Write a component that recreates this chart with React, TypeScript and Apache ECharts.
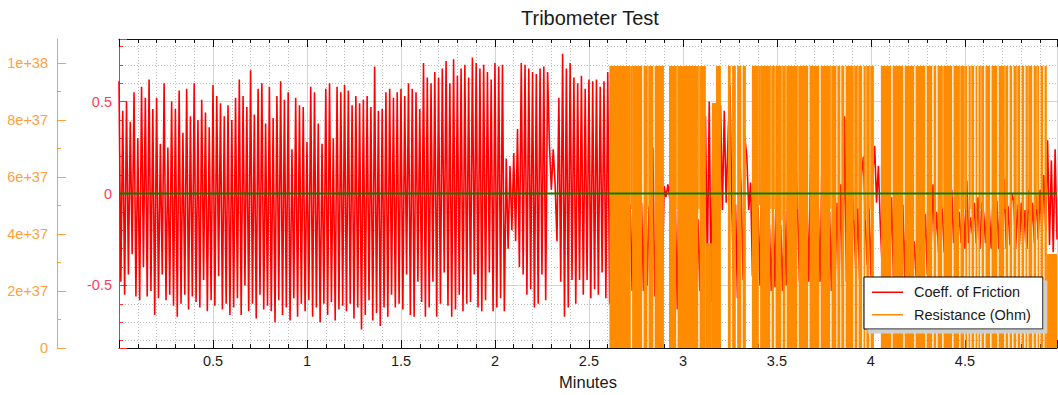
import React, { useEffect, useRef } from 'react';
import * as echarts from 'echarts';

const FONT = "'Liberation Sans', Arial, sans-serif";

// Coefficient of friction, sampled every cofStepMin minutes from cofStartMin
const cofStartMin = 0;
const cofStepMin = 0.01;
const cofValues = [
  0.61, -0.48, 0.45, -0.55, 0.50, -0.44, 0.39, -0.33, 0.55, -0.56, 0.30, -0.58, 0.58, -0.40, 0.52, -0.56, 0.62, -0.53, 0.46, -0.66,
  0.52, -0.57, 0.27, -0.44, 0.60, -0.58, 0.25, -0.55, 0.50, -0.61, 0.46, -0.67, 0.56, -0.60, 0.33, -0.55, 0.57, -0.63, 0.42, -0.56,
  0.60, -0.59, 0.40, -0.62, 0.51, -0.47, 0.44, -0.64, 0.36, -0.58, 0.59, -0.61, 0.53, -0.45, 0.49, -0.63, 0.42, -0.60, 0.48, -0.66,
  0.40, -0.62, 0.52, -0.57, 0.62, -0.66, 0.53, -0.50, 0.47, -0.64, 0.67, -0.60, 0.43, -0.68, 0.57, -0.55, 0.60, -0.63, 0.38, -0.61,
  0.58, -0.64, 0.41, -0.70, 0.53, -0.58, 0.61, -0.66, 0.51, -0.62, 0.55, -0.69, 0.24, -0.57, 0.52, -0.67, 0.48, -0.60, 0.47, -0.64,
  0.28, -0.58, 0.58, -0.67, 0.55, -0.62, 0.38, -0.70, 0.27, -0.60, 0.57, -0.66, 0.60, -0.59, 0.30, -0.69, 0.58, -0.63, 0.55, -0.61,
  0.59, -0.64, 0.56, -0.60, 0.48, -0.68, 0.53, -0.62, 0.49, -0.74, 0.51, -0.66, 0.53, -0.58, 0.47, -0.69, 0.69, -0.65, 0.45, -0.72,
  0.46, -0.62, 0.55, -0.67, 0.57, -0.55, 0.52, -0.62, 0.55, -0.60, 0.57, -0.63, 0.53, -0.44, 0.60, -0.66, 0.57, -0.67, 0.55, -0.48,
  0.46, -0.59, 0.71, -0.67, 0.63, -0.62, 0.60, -0.48, 0.66, -0.67, 0.63, -0.60, 0.68, -0.43, 0.72, -0.61, 0.60, -0.67, 0.73, -0.63,
  0.64, -0.55, 0.68, -0.64, 0.70, -0.60, 0.63, -0.59, 0.74, -0.44, 0.71, -0.62, 0.68, -0.64, 0.70, -0.58, 0.66, -0.43, 0.62, -0.64,
  0.71, -0.62, 0.69, -0.57, 0.70, -0.64, 0.19, -0.30, 0.15, -0.20, 0.22, -0.26, 0.35, -0.40, 0.71, -0.44, 0.70, -0.55, 0.68, -0.52,
  0.66, -0.62, 0.65, -0.60, 0.68, -0.44, 0.69, -0.58, 0.66, 0.26, 0.02, 0.24, 0.05, -0.26, 0.52, -0.48, 0.76, -0.67, 0.68, -0.62,
  0.71, -0.47, 0.63, -0.60, 0.60, -0.47, 0.64, -0.55, 0.57, -0.47, 0.62, -0.57, 0.61, -0.52, 0.62, -0.55, 0.58, -0.43, 0.61, -0.57,
  0.66, -0.60, 0.45, -0.55, 0.30, -0.50, 0.20, -0.52, 0.10, -0.55, 0.05, -0.50, -0.06, -0.53, 0.12, -0.48, 0.20, -0.55, -0.05, -0.53,
  0.15, -0.50, -0.07, -0.45, 0.25, -0.56, -0.04, -0.50, 0.20, -0.48, 0.04, -0.02, 0.05, -0.03, 0.30, -0.55, -0.08, -0.63, 0.20, -0.50,
  0.30, -0.55, 0.10, -0.50, 0.25, -0.52, 0.15, -0.48, -0.14, -0.53, 0.20, -0.50, 0.42, -0.40, 0.50, -0.59, 0.35, -0.55, 0.20, -0.50,
  0.48, -0.09, 0.45, -0.05, 0.30, 0.59, -0.05, -0.50, -0.06, -0.57, 0.25, 0.02, -0.47, 0.30, 0.20, -0.09, 0.06, -0.45, 0.20, -0.50,
  -0.08, -0.50, 0.20, -0.48, 0.10, -0.52, -0.17, -0.53, -0.08, -0.51, 0.15, -0.45, -0.17, -0.53, -0.08, -0.50, 0.25, -0.48, 0.10, -0.50,
  0.20, -0.08, -0.48, 0.15, -0.50, 0.10, -0.04, -0.48, 0.25, -0.45, 0.05, -0.50, -0.08, -0.48, 0.20, -0.47, 0.10, -0.50, -0.10, -0.53,
  0.10, -0.45, -0.05, -0.50, 0.05, -0.52, 0.42, -0.48, 0.15, -0.40, 0.05, -0.16, -0.42, -0.08, -0.47, 0.10, 0.20, -0.14, -0.39, -0.08,
  -0.45, 0.10, 0.26, -0.05, 0.15, -0.17, -0.40, 0.05, -0.45, 0.00, -0.40, -0.02, -0.47, 0.05, -0.42, 0.00, -0.40, -0.06, -0.47, 0.02,
  -0.40, 0.00, -0.38, -0.26, -0.45, -0.05, -0.40, 0.02, -0.35, -0.11, -0.44, -0.02, -0.30, 0.05, -0.28, -0.10, -0.32, -0.05, -0.09, -0.32,
  -0.02, -0.30, 0.00, 0.02, -0.27, -0.05, -0.28, -0.10, -0.27, -0.05, -0.30, 0.07, -0.27, -0.13, -0.22, -0.05, -0.27, -0.02, -0.30, -0.05,
  -0.11, -0.27, 0.00, -0.09, -0.30, -0.02, -0.25, -0.04, -0.30, 0.02, -0.28, 0.08, -0.30, -0.07, -0.28, 0.00, -0.04, -0.30, -0.06, -0.28,
  -0.05, -0.28, -0.09, -0.30, 0.02, -0.25, -0.05, -0.27, 0.00, -0.25, 0.02, -0.22, 0.10, -0.20, 0.29, -0.28, 0.18, -0.32, 0.24, -0.25,
];

// Resistance: overflow reading (open contact) from resistanceStartMin to resistanceEndMin,
// except in these intervals [startMin, endMin, lowOhm, highOhm] where the trace leaves that band
const resistanceStartMin = 2.609;
const resistanceEndMin = 4.99;
const resistanceOverflowOhm = 9.9e37;
const resistanceGaps = [
  [2.7225, 2.7295, 0, 4.88e37],
  [2.7835, 2.7905, 0, 9.9e37],
  [2.811, 2.817, 0, 4.88e37],
  [2.8425, 2.8495, 0, 9.9e37],
  [2.899, 2.926, 0, 9.9e37],
  [2.9645, 2.9715, 0, 4.88e37],
  [3.0815, 3.0885, 0, 4.88e37],
  [3.122, 3.154, 3.68e37, 9.9e37],
  [3.154, 3.176, 8.6e37, 9.9e37],
  [3.202, 3.239, 0, 9.9e37],
  [3.2545, 3.2615, 0, 9.9e37],
  [3.2815, 3.2885, 0, 9.9e37],
  [3.3105, 3.3175, 0, 9.9e37],
  [3.335, 3.367, 0, 9.9e37],
  [3.4035, 3.4105, 0, 5.02e37],
  [3.4645, 3.4715, 0, 4.88e37],
  [3.4855, 3.4925, 0, 4.88e37],
  [3.5235, 3.5305, 0, 4.49e37],
  [3.5445, 3.5515, 0, 4.88e37],
  [3.6085, 3.6155, 0, 4.88e37],
  [3.6665, 3.6735, 0, 9.9e37],
  [3.7255, 3.7325, 0, 9.9e37],
  [3.7835, 3.7905, 0, 4.88e37],
  [3.8165, 3.8215, 0, 9.9e37],
  [3.8375, 3.8425, 0, 9.9e37],
  [3.8585, 3.8655, 0, 9.9e37],
  [3.9065, 3.9135, 0, 4.49e37],
  [3.9275, 3.9345, 0, 4.88e37],
  [3.9535, 3.9605, 0, 9.9e37],
  [3.970, 3.976, 0, 4.49e37],
  [3.9915, 3.9985, 0, 4.88e37],
  [4.016, 4.053, 0, 9.9e37],
  [4.1085, 4.1155, 0, 9.9e37],
  [4.1725, 4.1795, 0, 9.9e37],
  [4.2305, 4.2375, 0, 9.9e37],
  [4.2895, 4.2965, 0, 9.9e37],
  [4.3265, 4.3335, 0, 9.9e37],
  [4.3475, 4.3545, 0, 9.9e37],
  [4.3795, 4.3865, 0, 4.88e37],
  [4.4325, 4.4395, 0, 9.9e37],
  [4.4695, 4.4765, 0, 4.88e37],
  [4.4965, 4.5035, 0, 4.88e37],
  [4.5125, 4.5195, 0, 9.9e37],
  [4.529, 4.535, 0, 4.88e37],
  [4.5495, 4.5565, 0, 9.9e37],
  [4.566, 4.572, 0, 9.9e37],
  [4.5815, 4.5885, 0, 4.88e37],
  [4.6025, 4.6095, 0, 9.9e37],
  [4.6345, 4.6415, 0, 9.9e37],
  [4.6725, 4.6795, 0, 9.9e37],
  [4.7095, 4.7165, 0, 4.88e37],
  [4.7305, 4.7375, 0, 9.9e37],
  [4.7515, 4.7585, 0, 9.9e37],
  [4.7735, 4.7805, 0, 4.88e37],
  [4.7945, 4.8015, 0, 9.9e37],
  [4.8155, 4.8225, 0, 9.9e37],
  [4.8315, 4.8385, 0, 4.88e37],
  [4.8585, 4.8655, 0, 9.9e37],
  [4.8795, 4.8865, 0, 4.88e37],
  [4.8955, 4.9025, 0, 9.9e37],
  [4.9165, 4.9235, 0, 9.9e37],
  [4.936, 4.99, 3.3e37, 9.9e37],
];

const zeroLine = [[0, 0], [4.99, 0]];
const resistanceTickValues = [0, 2e37, 4e37, 6e37, 8e37, 1e38];
const minutesMin = 0;
const minutesMax = 4.99;

function buildResistanceBlocks() {
  const H = resistanceOverflowOhm;
  const blocks: number[][] = [];
  let cursor = resistanceStartMin;
  for (const [t0, t1, lo, hi] of resistanceGaps) {
    if (t0 > cursor) blocks.push([cursor, t0, 0, H]);
    if (lo > 0) blocks.push([t0, t1, 0, lo]);
    if (hi < H) blocks.push([t0, t1, hi, H]);
    cursor = Math.max(cursor, t1);
  }
  if (cursor < resistanceEndMin) blocks.push([cursor, resistanceEndMin, 0, H]);
  return blocks;
}

function fmtResistance(v: number) {
  const m = Math.round(v / 1e37);
  if (m === 0) return '0';
  if (m === 10) return '1e+38';
  if (m > 10) return '';
  return `${m}e+37`;
}

export default function App() {
  const ref = useRef<HTMLDivElement>(null);
  useEffect(() => {
    if (!ref.current) return;
    document.body.style.margin = '0';
    const chart = echarts.init(ref.current, null, { renderer: 'svg' });
    const cofData = cofValues.map((v, i) => [+(cofStartMin + i * cofStepMin).toFixed(4), v]);
    const blocks = buildResistanceBlocks();
    const darkText = '#1a1a1a';
    const redAxis = '#ff2f2f';
    const orangeAxis = '#ffa033';
    chart.setOption({
      animation: false,
      backgroundColor: '#ffffff',
      title: {
        text: 'Tribometer Test',
        left: 521,
        top: 8,
        padding: 0,
        textStyle: { fontSize: 20, fontWeight: 'normal', color: darkText, fontFamily: FONT },
      },
      grid: { left: 119, top: 39, width: 938, height: 309, containLabel: false, outerBoundsMode: 'none' },
      legend: {
        left: 864,
        top: 277,
        orient: 'vertical',
        itemWidth: 31,
        itemHeight: 1.5,
        itemGap: 7.5,
        padding: [7.75, 12, 6.75, 8],
        backgroundColor: '#ffffff',
        borderColor: '#000000',
        borderWidth: 1,
        borderRadius: 0,
        shadowColor: '#cfcfcf',
        shadowOffsetX: 4,
        shadowOffsetY: 4,
        shadowBlur: 0,
        selectedMode: false,
        textStyle: { color: darkText, fontSize: 14.5, fontFamily: FONT, padding: [0, 0, 0, 6] },
        data: [
          { name: 'Coeff. of Friction', icon: 'rect' },
          { name: 'Resistance (Ohm)', icon: 'rect' },
        ],
      },
      xAxis: [
        {
          type: 'value',
          position: 'bottom',
          min: minutesMin,
          max: minutesMax,
          interval: 0.5,
          axisLine: { show: true, onZero: false, lineStyle: { color: '#111111', width: 1 } },
          axisTick: { show: true, inside: true, length: 8, lineStyle: { color: '#111111' } },
          minorTick: { show: true, splitNumber: 5, length: 4, lineStyle: { color: '#111111' } },
          axisLabel: {
            show: true,
            margin: 5,
            color: darkText,
            fontSize: 14.5,
            fontFamily: FONT,
            showMinLabel: false,
            showMaxLabel: false,
            formatter: (v: number) => (v === 0 ? '' : String(v)),
          },
          splitLine: { show: true, lineStyle: { color: '#d4d4d4', width: 1 } },
          minorSplitLine: { show: true, lineStyle: { color: '#c0c0c0', width: 1, type: [1, 2] } },
          name: 'Minutes',
          nameLocation: 'middle',
          nameGap: 25,
          nameTextStyle: { color: darkText, fontSize: 16.5, fontFamily: FONT },
        },
        {
          type: 'value',
          position: 'top',
          min: minutesMin,
          max: minutesMax,
          interval: 0.5,
          axisLine: { show: true, onZero: false, lineStyle: { color: '#111111', width: 1 } },
          axisTick: { show: true, inside: true, length: 8, lineStyle: { color: '#111111' } },
          minorTick: { show: true, splitNumber: 5, length: 4, lineStyle: { color: '#111111' } },
          axisLabel: { show: false },
          splitLine: { show: false },
        },
      ],
      yAxis: [
        {
          type: 'value',
          position: 'left',
          min: -0.84,
          max: 0.84,
          splitNumber: 3,
          minInterval: 0.5,
          maxInterval: 0.5,
          axisLine: { show: true, onZero: false, lineStyle: { color: redAxis, width: 1 } },
          axisTick: { show: true, inside: true, length: 8, lineStyle: { color: redAxis } },
          minorTick: { show: true, splitNumber: 5, length: 4, lineStyle: { color: redAxis } },
          axisLabel: {
            margin: 7,
            color: '#ff3d5a',
            fontSize: 14.5,
            fontFamily: FONT,
            showMinLabel: false,
            showMaxLabel: false,
          },
          splitLine: { show: true, lineStyle: { color: '#d4d4d4', width: 1 } },
          minorSplitLine: { show: true, lineStyle: { color: '#c0c0c0', width: 1, type: [1, 2] } },
        },
        {
          type: 'value',
          position: 'left',
          offset: 62,
          min: 0,
          max: 1.085e38,
          interval: 2e37,
          axisLine: { show: true, onZero: false, lineStyle: { color: orangeAxis, width: 1 } },
          axisTick: { show: true, inside: true, length: 9, lineStyle: { color: orangeAxis }, customValues: resistanceTickValues },
          minorTick: { show: true, splitNumber: 2, length: 4, lineStyle: { color: orangeAxis } },
          axisLabel: {
            margin: 9,
            color: '#ffa040',
            fontSize: 14.5,
            fontFamily: FONT,
            customValues: resistanceTickValues,
            formatter: fmtResistance,
          },
          splitLine: { show: false },
          minorSplitLine: { show: false },
        },
      ],
      series: [
        {
          name: 'Coeff. of Friction',
          type: 'line',
          xAxisIndex: 0,
          yAxisIndex: 0,
          data: cofData,
          color: '#ff0000',
          symbol: 'none',
          showSymbol: false,
          lineStyle: { color: '#ff0000', width: 1.6 },
          itemStyle: { color: '#ff0000' },
          emphasis: { disabled: true },
          silent: true,
          clip: true,
          z: 2,
        },
        {
          name: 'Resistance (Ohm)',
          type: 'custom',
          xAxisIndex: 0,
          yAxisIndex: 1,
          data: blocks,
          encode: { x: [0, 1], y: [2, 3] },
          color: '#ff8c00',
          itemStyle: { color: '#ff8c00' },
          silent: true,
          clip: true,
          z: 3,
          renderItem: (params: any, api: any) => {
            const a = api.coord([api.value(0), api.value(3)]);
            const b = api.coord([api.value(1), api.value(2)]);
            return {
              type: 'rect',
              shape: { x: a[0], y: a[1], width: b[0] - a[0], height: b[1] - a[1] },
              style: { fill: '#ff8c00' },
            };
          },
        },
        {
          name: 'zero',
          type: 'line',
          xAxisIndex: 0,
          yAxisIndex: 0,
          data: zeroLine,
          symbol: 'none',
          lineStyle: { color: '#008000', width: 2 },
          itemStyle: { color: '#008000' },
          emphasis: { disabled: true },
          silent: true,
          z: 4,
        },
      ],
    });
    return () => chart.dispose();
  }, []);
  return (
    <div
      ref={ref}
      style={{ position: 'absolute', left: 0, top: 0, width: '1058px', height: '395px', background: '#fff' }}
    />
  );
}
